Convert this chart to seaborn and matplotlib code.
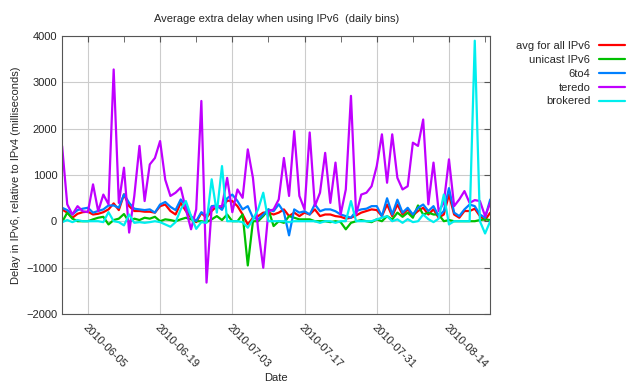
import pandas as pd
import seaborn as sns
import matplotlib
matplotlib.use("Agg")
import matplotlib.pyplot as plt
import matplotlib.dates as mdates

# daily bins, 2010-05-31 .. 2010-08-22
dates = pd.date_range("2010-05-31", periods=84, freq="D")

avg_all = [260, 190, 80, 165, 200, 210, 150, 165, 200, 260, 390, 245, 585, 330, 225, 225,
           210, 210, 190, 330, 365, 225, 150, 400, 225, 80, -15, 180,
           80, 225, 330, 280, 450, 440, 330, 150, -65, 80, 115, 190, 190, 150, 190, 260,
           115, 190, 115, 190, 150, 260, 115, 150, 150, 115, 100, 60,
           80, 130, 190, 225, 260, 245, 115, 365, 115, 365, 150, 260, 130, 225, 295, 150,
           260, 80, 150, 580, 150, 80, 225, 225, 275, 115, 30, 190]
unicast = [-15, 190, 60, 5, 5, 5, 45, 80, 100, -65, 30, 60, 160, -15, 60, 30,
           80, 60, 100, 5, 45, 30, 5, 45, 80, 45, 5, 5,
           -15, 45, 115, 30, 150, 5, 5, 150, -950, 5, 5, 115, 260, -100, 5, -30,
           115, 80, 45, 45, 45, 5, 5, 5, -15, 5, -15, -170,
           -30, 5, 30, 5, -15, 45, 5, 115, 45, 190, 100, 190, 80, 345, 150, 190,
           150, 150, 5, 30, 5, 5, 5, 5, 5, 30, 45, 30]
sixto4 = [295, 245, 150, 245, 275, 295, 190, 225, 260, 345, 345, 295, 585, 400, 275, 260,
          245, 260, 190, 365, 420, 315, 245, 475, 330, 115, 10, 200,
          115, 330, 345, 250, 500, 580, 440, 260, 330, 80, 45, 150, 260, 220, 370, 200,
          -300, 260, 190, 220, 150, 370, 220, 260, 260, 220, 150, 115,
          80, 225, 260, 275, 330, 330, 115, 500, 150, 470, 190, 295, 150, 295, 365, 225,
          330, 115, 225, 720, 190, 115, 260, 365, 330, 150, 80, 475]
teredo = [1630, 370, 150, 330, 220, 200, 800, 220, 580, 370, 3280, 400, 1160, -240, 550, 1630,
          440, 1230, 1370, 1735, 900, 550, 620, 730, 260, -170, 260, 2600,
          -1320, 295, 330, 330, 940, 200, 690, 510, 1555, 940, -170, -1000, 220, 260, 475, 1370,
          550, 1950, 550, 260, 1920, 330, 620, 1480, 400, 1270, 150, 690,
          2710, 150, 580, 620, 760, 1195, 1880, 835, 1880, 940, 690, 760, 1700, 1630, 2200, 370,
          1270, 220, 400, 1340, 330, 475, 655, 400, 460, 440, 115, 400]
brokered = [-15, 30, -15, 30, 5, 5, 5, 5, -15, 200, 5, -15, -85, 150, -30, -15,
            -30, -15, 5, -15, -65, -115, -15, 260, 440, 115, -160, -15,
            -30, 910, 190, 1195, 5, 5, 5, -15, -135, 45, 260, 620, 5, 5, 5, 5,
            -15, 5, 5, 5, 5, 5, -30, 5, 5, -30, 5, 5,
            440, 5, 5, 5, 5, 45, 80, 115, 5, 45, -30, 50, -15, 5, 150, 50,
            -15, 60, 580, -65, 5, 5, 5, 5, 3900, 5, -260, 5]

names = ["avg for all IPv6", "unicast IPv6", "6to4", "teredo", "brokered"]
colors = ["#ff0000", "#00c000", "#0080ff", "#c000ff", "#00eeee"]

df = pd.DataFrame({"date": dates, names[0]: avg_all, names[1]: unicast,
                   names[2]: sixto4, names[3]: teredo, names[4]: brokered})
long = df.melt(id_vars="date", var_name="series", value_name="delay")

sns.set_style("white")
plt.rcParams["font.family"] = ["Liberation Sans", "DejaVu Sans"]

fig = plt.figure(figsize=(6.4, 3.84), dpi=100)
ax = fig.add_axes([0.097, 0.182, 0.669, 0.724])

sns.lineplot(data=long, x="date", y="delay", hue="series", hue_order=names,
             palette=colors, linewidth=1.6, ax=ax)

ax.set_xlim(dates[0], dates[-1])
ax.set_ylim(-2000, 4000)
ax.set_yticks(range(-2000, 4001, 1000))

major = pd.date_range("2010-06-05", periods=6, freq="14D")
minor = pd.date_range("2010-06-12", periods=6, freq="14D")
ax.set_xticks(major)
ax.set_xticks(minor, minor=True)
ax.xaxis.set_major_formatter(mdates.DateFormatter("%Y-%m-%d"))

ax.grid(True, which="major", color="#cccccc", linewidth=0.8)
ax.tick_params(which="both", direction="in", top=True, right=True,
               labelsize=8, length=4, color="#555555")
ax.tick_params(axis="x", which="major", pad=6)
for lab in ax.get_xticklabels():
    lab.set_rotation(-45)
    lab.set_ha("left")
    lab.set_va("top")
    lab.set_rotation_mode("anchor")
for s in ax.spines.values():
    s.set_color("#555555")
    s.set_linewidth(0.8)

ax.set_title("Average extra delay when using IPv6  (daily bins)", fontsize=8, pad=10)
ax.set_xlabel("Date", fontsize=8, labelpad=2)
ax.set_ylabel("Delay in IPv6, relative to IPv4 (milliseconds)", fontsize=8, labelpad=4)

handles, labels = ax.get_legend_handles_labels()
fig.legend(handles, labels, loc="upper right", bbox_to_anchor=(0.983, 0.905),
           markerfirst=False, frameon=False, fontsize=8, handlelength=2.3,
           labelspacing=0.35, handletextpad=0.8, borderaxespad=0)
if ax.get_legend() is not None:
    ax.get_legend().remove()

fig.savefig("out.png", dpi=100)
